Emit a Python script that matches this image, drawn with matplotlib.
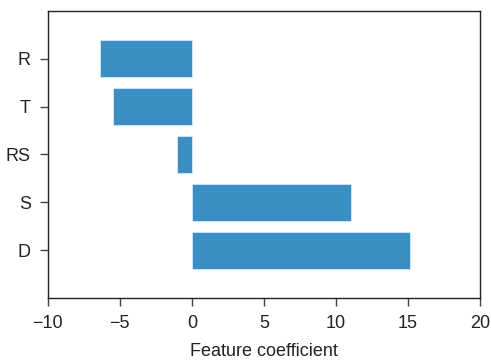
import matplotlib
matplotlib.use("Agg")
import matplotlib.pyplot as plt

categories = ["D", "S", "RS", "T", "R"]
values = [15.1, 11.05, -1.05, -5.45, -6.35]

plt.rcParams['font.family'] = ['Liberation Sans', 'DejaVu Sans']

fig = plt.figure(figsize=(4.91, 3.6), dpi=100)
ax = fig.add_axes([0.097, 0.172, 0.881, 0.798])
ax.barh(range(len(categories)), values, height=0.78, color="#3a8ec4",
        edgecolor="#d6eaf6", linewidth=0.6)
ax.set_yticks(range(len(categories)))
ax.set_yticklabels(categories)
ax.set_ylim(-1, 5)
ax.set_xlim(-10, 20)
ax.set_xticks([-10, -5, 0, 5, 10, 15, 20])
ax.set_xticklabels(["\u221210", "\u22125", "0", "5", "10", "15", "20"])
ax.set_xlabel("Feature coefficient", fontsize=13, color="#222222", labelpad=8)
ax.tick_params(labelsize=13, colors="#222222", length=6, width=1, pad=6)
ax.tick_params(axis='both', color="#444444")
for s in ax.spines.values():
    s.set_color("#222222")
    s.set_linewidth(1.0)
fig.savefig("out.png", dpi=100)
